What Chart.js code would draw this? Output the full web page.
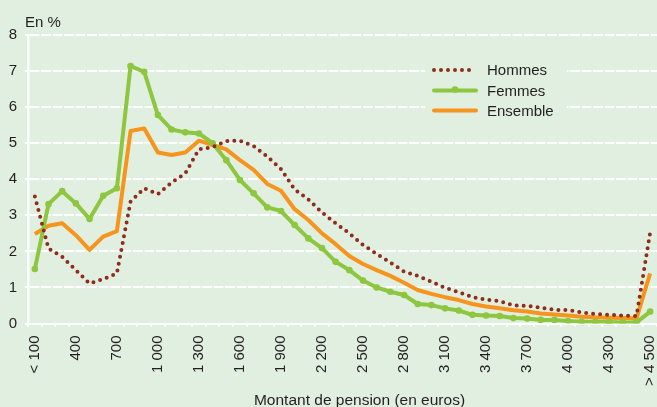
<!DOCTYPE html>
<html>
<head>
<meta charset="utf-8">
<script src="https://cdn.jsdelivr.net/npm/chart.js@4.4.0/dist/chart.umd.min.js"></script>
<style>
  html, body { margin: 0; padding: 0; background: #e0efdf; }
  #wrap { width: 657px; height: 407px; }
</style>
</head>
<body>
<div id="wrap"><canvas id="pensions"></canvas></div>
<script>
const categories = ['< 100', '200', '300', '400', '500', '600', '700', '800', '900', '1 000',
    '1 100', '1 200', '1 300', '1 400', '1 500', '1 600', '1 700', '1 800', '1 900', '2 000',
    '2 100', '2 200', '2 300', '2 400', '2 500', '2 600', '2 700', '2 800', '2 900', '3 000',
    '3 100', '3 200', '3 300', '3 400', '3 500', '3 600', '3 700', '3 800', '3 900', '4 000',
    '4 100', '4 200', '4 300', '4 400', '4 500', '> 4 500'];

const hommes = [3.52, 2.08, 1.85, 1.48, 1.11, 1.23, 1.39, 3.38, 3.75, 3.59,
    3.91, 4.16, 4.83, 4.89, 5.06, 5.07, 4.92, 4.63, 4.28, 3.72,
    3.44, 3.08, 2.78, 2.50, 2.18, 1.93, 1.69, 1.44, 1.32, 1.16,
    0.99, 0.87, 0.73, 0.66, 0.62, 0.50, 0.49, 0.44, 0.38, 0.37,
    0.31, 0.26, 0.24, 0.22, 0.21, 2.52];

const femmes = [1.51, 3.31, 3.67, 3.33, 2.90, 3.54, 3.75, 7.14, 6.98, 5.78,
    5.38, 5.30, 5.27, 5.00, 4.53, 3.98, 3.61, 3.22, 3.12, 2.73,
    2.36, 2.09, 1.71, 1.48, 1.19, 1.00, 0.88, 0.79, 0.54, 0.51,
    0.42, 0.36, 0.24, 0.22, 0.21, 0.15, 0.14, 0.10, 0.10, 0.07,
    0.05, 0.05, 0.04, 0.03, 0.03, 0.33];

const ensemble = [2.48, 2.71, 2.78, 2.45, 2.04, 2.41, 2.56, 5.34, 5.41, 4.74,
    4.67, 4.74, 5.07, 4.95, 4.83, 4.53, 4.26, 3.87, 3.68, 3.17,
    2.87, 2.50, 2.20, 1.87, 1.65, 1.48, 1.32, 1.13, 0.93, 0.82,
    0.73, 0.65, 0.54, 0.47, 0.42, 0.37, 0.33, 0.28, 0.25, 0.22,
    0.19, 0.17, 0.16, 0.15, 0.14, 1.39];

const yTicks = [0, 1, 2, 3, 4, 5, 6, 7, 8];
const seriesNames = ['Hommes', 'Femmes', 'Ensemble'];

const bgColor = '#e0efdf';
const textColor = '#231f20';
const fontFamily = '"Liberation Sans", Arial, sans-serif';

// fond, titres et légende dessinés à la main
const decorPlugin = {
    id: 'decor',
    beforeDraw(chart) {
        const ctx = chart.ctx;
        ctx.save();
        ctx.fillStyle = bgColor;
        ctx.fillRect(0, 0, chart.width, chart.height);
        ctx.restore();
    },
    afterDraw(chart) {
        const ctx = chart.ctx;
        ctx.save();
        ctx.fillStyle = textColor;
        ctx.font = '15px ' + fontFamily;
        ctx.textBaseline = 'alphabetic';
        ctx.textAlign = 'left';
        ctx.fillText('En %', 25, 27);

        ctx.font = '15.5px ' + fontFamily;
        ctx.textAlign = 'center';
        ctx.fillText('Montant de pension (en euros)', 359.5, 404.5);

        // légende
        ctx.fillStyle = bgColor;
        ctx.fillRect(425, 55, 142, 70);
        const rows = [70, 90.5, 110.5];
        chart.data.datasets.forEach(function (ds, i) {
            const y = rows[i];
            ctx.strokeStyle = ds.borderColor;
            ctx.lineWidth = ds.borderWidth;
            ctx.lineCap = 'round';
            ctx.setLineDash(ds.borderDash || []);
            ctx.beginPath();
            ctx.moveTo(434, y);
            ctx.lineTo(476, y);
            ctx.stroke();
            ctx.setLineDash([]);
            if (ds.pointRadius > 0) {
                ctx.fillStyle = ds.borderColor;
                ctx.beginPath();
                ctx.arc(455, y - 1, ds.pointRadius, 0, Math.PI * 2);
                ctx.fill();
            }
            ctx.fillStyle = textColor;
            ctx.font = '15px ' + fontFamily;
            ctx.textAlign = 'left';
            ctx.textBaseline = 'middle';
            ctx.fillText(ds.label, 487, y + 1);
        });
        ctx.restore();
    }
};

const config = {
    type: 'line',
    data: {
        labels: categories,
        datasets: [
            {
                label: seriesNames[0],
                data: hommes,
                borderColor: '#8e2d1c',
                borderWidth: 4,
                borderDash: [0, 7],
                borderCapStyle: 'round',
                pointRadius: 0,
                tension: 0
            },
            {
                label: seriesNames[1],
                data: femmes,
                borderColor: '#8dc63f',
                backgroundColor: '#8dc63f',
                borderWidth: 4,
                pointRadius: 3.3,
                pointBorderWidth: 0,
                borderJoinStyle: 'round',
                tension: 0
            },
            {
                label: seriesNames[2],
                data: ensemble,
                borderColor: '#f7941e',
                borderWidth: 4,
                pointRadius: 0,
                borderJoinStyle: 'round',
                tension: 0
            }
        ]
    },
    options: {
        responsive: true,
        maintainAspectRatio: false,
        animation: false,
        layout: {
            autoPadding: false,
            padding: { top: 35, left: 0, right: -3, bottom: 0 }
        },
        scales: {
            x: {
                offset: true,
                grid: {
                    offset: true,
                    drawOnChartArea: false,
                    drawTicks: true,
                    tickLength: 3,
                    color: '#ffffff',
                    lineWidth: 2
                },
                border: { display: true, color: '#ffffff', width: 2 },
                ticks: {
                    autoSkip: false,
                    maxRotation: 90,
                    minRotation: 90,
                    padding: 9,
                    color: textColor,
                    font: { family: fontFamily, size: 15 },
                    callback: (value, index) => (index % 3 === 0 ? categories[index] : '')
                },
                afterFit: (scale) => {
                    scale.height = 83.5;
                    scale.paddingLeft = 0;
                    scale.paddingRight = -3;
                }
            },
            y: {
                min: 0,
                max: 8,
                afterBuildTicks: (scale) => {
                    scale.ticks = yTicks.map(v => ({ value: v }));
                },
                grid: {
                    color: '#ffffff',
                    lineWidth: 2,
                    tickLength: 3
                },
                border: { display: true, color: '#ffffff', width: 2.5, dash: [10, 1.5] },
                ticks: {
                    padding: 8,
                    color: textColor,
                    font: { family: fontFamily, size: 15 }
                },
                afterFit: (scale) => {
                    scale.width = 28;
                    scale.paddingTop = 0;
                    scale.paddingBottom = 0;
                }
            }
        },
        plugins: {
            legend: { display: false },
            tooltip: { enabled: false }
        }
    },
    plugins: [decorPlugin]
};

const chart = new Chart('pensions', config);
</script>
</body>
</html>
